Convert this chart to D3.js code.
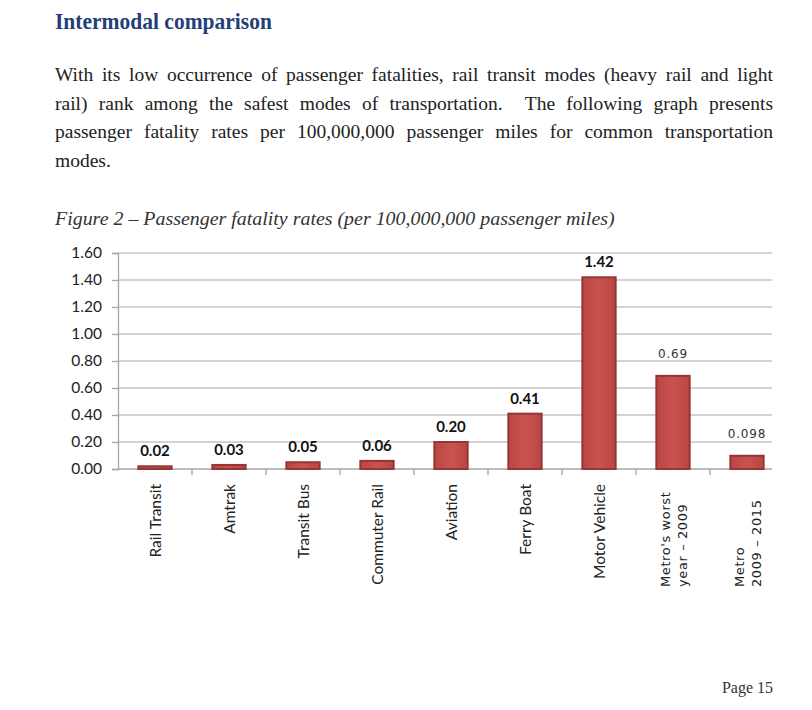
<!DOCTYPE html>
<html>
<head>
<meta charset="utf-8">
<script src="https://cdn.jsdelivr.net/npm/d3@7"></script>
<style>
  html, body { margin: 0; padding: 0; background: #ffffff; }
  svg { display: block; }
</style>
</head>
<body>
<svg id="chart" width="812" height="710"></svg>
<script>
// ---- data ----
const categories = ["Rail Transit", "Amtrak", "Transit Bus", "Commuter Rail", "Aviation",
  "Ferry Boat", "Motor Vehicle", "Metro's worst|year – 2009", "Metro|2009 – 2015"];
const values = [0.02, 0.03, 0.05, 0.06, 0.20, 0.41, 1.42, 0.69, 0.098];
const valueLabels = ["0.02", "0.03", "0.05", "0.06", "0.20", "0.41", "1.42", "0.69", "0.098"];
const yTicks = [0, 0.2, 0.4, 0.6, 0.8, 1.0, 1.2, 1.4, 1.6];

const titleText = "Intermodal comparison";
const paragraphLines = [
  "With its low occurrence of passenger fatalities, rail transit modes (heavy rail and light",
  "rail) rank among the safest modes of transportation.  The following graph presents",
  "passenger fatality rates per 100,000,000 passenger miles for common transportation",
  "modes."
];
const captionText = "Figure 2 – Passenger fatality rates (per 100,000,000 passenger miles)";
const pageText = "Page 15";

// ---- layout ----
const svg = d3.select("#chart");
const plot = { left: 118, right: 784, top: 253, bottom: 469, gridEnd: 772 };
const serif = "'Liberation Serif', 'Times New Roman', serif";

// Title
const title = svg.append("text")
  .attr("font-family", serif)
  .attr("font-size", 23).attr("font-weight", "bold")
  .attr("fill", "#243f78")
  .text(titleText);
{
  const w = title.node().getComputedTextLength();
  title.attr("transform", `translate(55,29) scale(${217 / w},1)`);
}

// Paragraph (justified)
const paraLeft = 55, paraRight = 773, paraTop = 81, lineH = 28.5;
const paraW = paraRight - paraLeft;
const paraNodes = paragraphLines.map(line => svg.append("text")
    .attr("font-family", serif)
    .attr("font-size", 19.5)
    .attr("fill", "#222")
    .style("white-space", "pre")
    .text(line));
const w0 = paraNodes[0].node().getComputedTextLength();
const pScale = Math.min(1, paraW / (w0 + 4));
paraNodes.forEach((t, i) => {
  t.attr("transform", `translate(${paraLeft},${paraTop + i * lineH}) scale(${pScale},1)`);
  if (i < paragraphLines.length - 1) {
    const w = t.node().getComputedTextLength();
    const spaces = (paragraphLines[i].match(/ /g) || []).length;
    if (spaces > 0) t.attr("word-spacing", (paraW / pScale - w) / spaces);
  }
});

// Caption
const cap = svg.append("text")
  .attr("font-family", serif)
  .attr("font-size", 19.5).attr("font-style", "italic")
  .attr("fill", "#333")
  .text(captionText);
{
  const w = cap.node().getComputedTextLength();
  cap.attr("transform", `translate(55,225) scale(${560 / w},1)`);
}

// Page number
svg.append("text")
  .attr("x", 773).attr("y", 693)
  .attr("text-anchor", "end")
  .attr("font-family", serif)
  .attr("font-size", 16)
  .attr("fill", "#333")
  .text(pageText);

// ---- chart ----
const x = d3.scaleBand().domain(categories).range([plot.left, plot.right])
  .paddingInner(0.55).paddingOuter(0.275);
const y = d3.scaleLinear().domain([0, 1.6]).range([plot.bottom, plot.top]);

// gridlines
svg.append("g").selectAll("line").data(yTicks.filter(d => d > 0)).join("line")
  .attr("x1", plot.left).attr("x2", plot.gridEnd)
  .attr("y1", d => y(d)).attr("y2", d => y(d))
  .attr("stroke", "#c4c4c4").attr("stroke-width", 1.3);

// Y axis
const yAxis = d3.axisLeft(y).tickValues(yTicks).tickFormat(d3.format(".2f")).tickSize(6).tickPadding(10);
const gy = svg.append("g").attr("transform", `translate(${plot.left},0)`).call(yAxis);
gy.select(".domain").attr("stroke", "#a6a6a6").attr("stroke-width", 1.3);
gy.selectAll(".tick line").attr("stroke", "#a6a6a6").attr("stroke-width", 1.3);
gy.selectAll(".tick text")
  .attr("font-family", "Lato, 'Open Sans', sans-serif")
  .attr("font-size", 15.5).attr("fill", "#222");

// X axis baseline + boundary ticks
svg.append("line")
  .attr("x1", plot.left).attr("x2", plot.gridEnd)
  .attr("y1", y(0)).attr("y2", y(0))
  .attr("stroke", "#a6a6a6").attr("stroke-width", 1.3);
const boundaries = categories.map(c => x(c) - x.step() * x.paddingInner() / 2).slice(1)
  .filter(b => b < plot.gridEnd);
svg.append("g").selectAll("line").data(boundaries).join("line")
  .attr("x1", d => d).attr("x2", d => d)
  .attr("y1", y(0)).attr("y2", y(0) + 6)
  .attr("stroke", "#a6a6a6").attr("stroke-width", 1.3);

// Bars
const defs = svg.append("defs");
const grad = defs.append("linearGradient").attr("id", "barGrad").attr("x1", 0).attr("x2", 1).attr("y1", 0).attr("y2", 0);
grad.append("stop").attr("offset", "0%").attr("stop-color", "#b94643");
grad.append("stop").attr("offset", "50%").attr("stop-color", "#c9544f");
grad.append("stop").attr("offset", "100%").attr("stop-color", "#b94643");

svg.append("g").selectAll("rect").data(values).join("rect")
  .attr("x", (d, i) => x(categories[i]))
  .attr("width", x.bandwidth())
  .attr("y", d => y(d))
  .attr("height", d => y(0) - y(d))
  .attr("fill", "url(#barGrad)")
  .attr("stroke", "#943634").attr("stroke-width", 2);

// Value labels
const isMetro = c => c.startsWith("Metro");
svg.append("g").selectAll("text").data(values).join("text")
  .attr("x", (d, i) => x(categories[i]) + x.bandwidth() / 2)
  .attr("y", (d, i) => y(d) - (isMetro(categories[i]) ? 18 : 10))
  .attr("text-anchor", "middle")
  .attr("font-family", (d, i) => isMetro(categories[i]) ? "'DejaVu Sans', Verdana, sans-serif" : "Lato, 'Open Sans', sans-serif")
  .attr("font-size", (d, i) => isMetro(categories[i]) ? 12 : 15)
  .attr("font-weight", (d, i) => isMetro(categories[i]) ? "normal" : "bold")
  .attr("letter-spacing", (d, i) => isMetro(categories[i]) ? 0.8 : 0)
  .attr("fill", (d, i) => isMetro(categories[i]) ? "#333" : "#111")
  .text((d, i) => valueLabels[i]);

// Category labels
const gx = svg.append("g");
categories.forEach((c, i) => {
  const cx = x(c) + x.bandwidth() / 2;
  if (isMetro(c)) {
    const lines = c.split("|");
    const t = gx.append("text")
      .attr("transform", `translate(${cx - 8},587) rotate(-90)`)
      .attr("text-anchor", "start")
      .attr("font-family", "'DejaVu Sans', Verdana, sans-serif")
      .attr("font-size", 13)
      .attr("letter-spacing", 0.6)
      .attr("fill", "#222");
    lines.forEach((l, j) => {
      t.append("tspan").attr("x", 0).attr("dy", j === 0 ? "0.35em" : 17).text(l);
    });
  } else {
    gx.append("text")
      .attr("transform", `translate(${cx + 1},484) rotate(-90)`)
      .attr("text-anchor", "end")
      .attr("dy", "0.35em")
      .attr("font-family", "Lato, 'Open Sans', sans-serif")
      .attr("font-size", 15.5)
      .attr("fill", "#222")
      .text(c);
  }
});
</script>
</body>
</html>
